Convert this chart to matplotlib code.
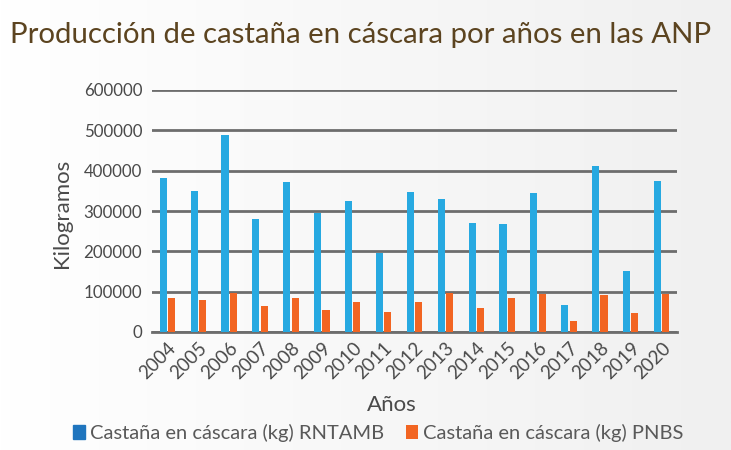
import numpy as np
import matplotlib
matplotlib.use("Agg")
import matplotlib.pyplot as plt

# data
years = [str(y) for y in range(2004, 2021)]
rntamb = [382000, 350000, 488000, 280000, 372000, 295000, 325000, 195000, 347000,
          330000, 270000, 268000, 345000, 68000, 412000, 152000, 375000]
pnbs = [85000, 80000, 97000, 65000, 85000, 55000, 75000, 50000, 75000,
        97000, 60000, 85000, 95000, 28000, 92000, 48000, 95000]
yticks = [0, 100000, 200000, 300000, 400000, 500000, 600000]

plt.rcParams['font.family'] = ['Lato', 'DejaVu Sans']

fig = plt.figure(figsize=(7.31, 4.5), dpi=100)
# soft background gradient (white on the left to light grey on the right)
bg = fig.add_axes([0, 0, 1, 1], zorder=-10)
grad = np.linspace(0, 1, 256).reshape(1, -1)
bg.imshow(grad, aspect='auto', cmap=matplotlib.colors.LinearSegmentedColormap.from_list(
    'bg', ['#ffffff', '#f0f0f0']), extent=[0, 1, 0, 1])
bg.axis('off')

ax = fig.add_axes([152 / 731, 1 - 332 / 450, 525 / 731, 242 / 450])
ax.patch.set_alpha(0)

x = np.arange(len(years))
w = 0.23
ax.bar(x - w / 2 - 0.02, rntamb, w, color='#27A9E1', zorder=3,
       label='Castaña en cáscara (kg) RNTAMB')
ax.bar(x + w / 2 + 0.02, pnbs, w, color='#F26522', zorder=3,
       label='Castaña en cáscara (kg) PNBS')

ax.set_xlim(-0.5, len(years) - 0.5)
ax.set_ylim(0, 600000)
ax.set_yticks(yticks)
ax.set_yticklabels([str(v) for v in yticks], fontsize=12.2, color='#4a4a4a')
ax.set_xticks(x)
ax.set_xticklabels(years, rotation=45, ha='right', rotation_mode='anchor',
                   fontsize=13.5, color='#4a4a4a')
ax.tick_params(axis='y', length=0, pad=7)
ax.tick_params(axis='x', length=0, pad=5)
ax.grid(axis='y', color='#6d6d6d', linewidth=2, zorder=1)
for s in ['top', 'right', 'left']:
    ax.spines[s].set_visible(False)
ax.spines['bottom'].set_color('#6d6d6d')
ax.spines['bottom'].set_linewidth(2)

fig.text(62 / 731, 1 - 213 / 450, 'Kilogramos', fontsize=16, color='#4a4a4a',
         rotation=90, ha='center', va='center')
fig.text(392 / 731, 1 - 405 / 450, 'Años', fontsize=16, color='#4a4a4a',
         ha='center', va='center')

fig.text(10 / 731, 1 - 35 / 450, 'Producción de castaña en cáscara por años en las ANP',
         fontsize=21.2, color='#5c4420', ha='left', va='center')

handles, labels = ax.get_legend_handles_labels()
leg = fig.legend(handles, labels, loc='center', bbox_to_anchor=(378 / 731, 1 - 433 / 450),
                 ncol=2, frameon=False, fontsize=14.5, handlelength=0.6, handleheight=0.7,
                 handletextpad=0.25, columnspacing=1.1)
for t in leg.get_texts():
    t.set_color('#595959')
leg.legend_handles[0].set_color('#1F75BE')

fig.savefig('out.png', dpi=100)
